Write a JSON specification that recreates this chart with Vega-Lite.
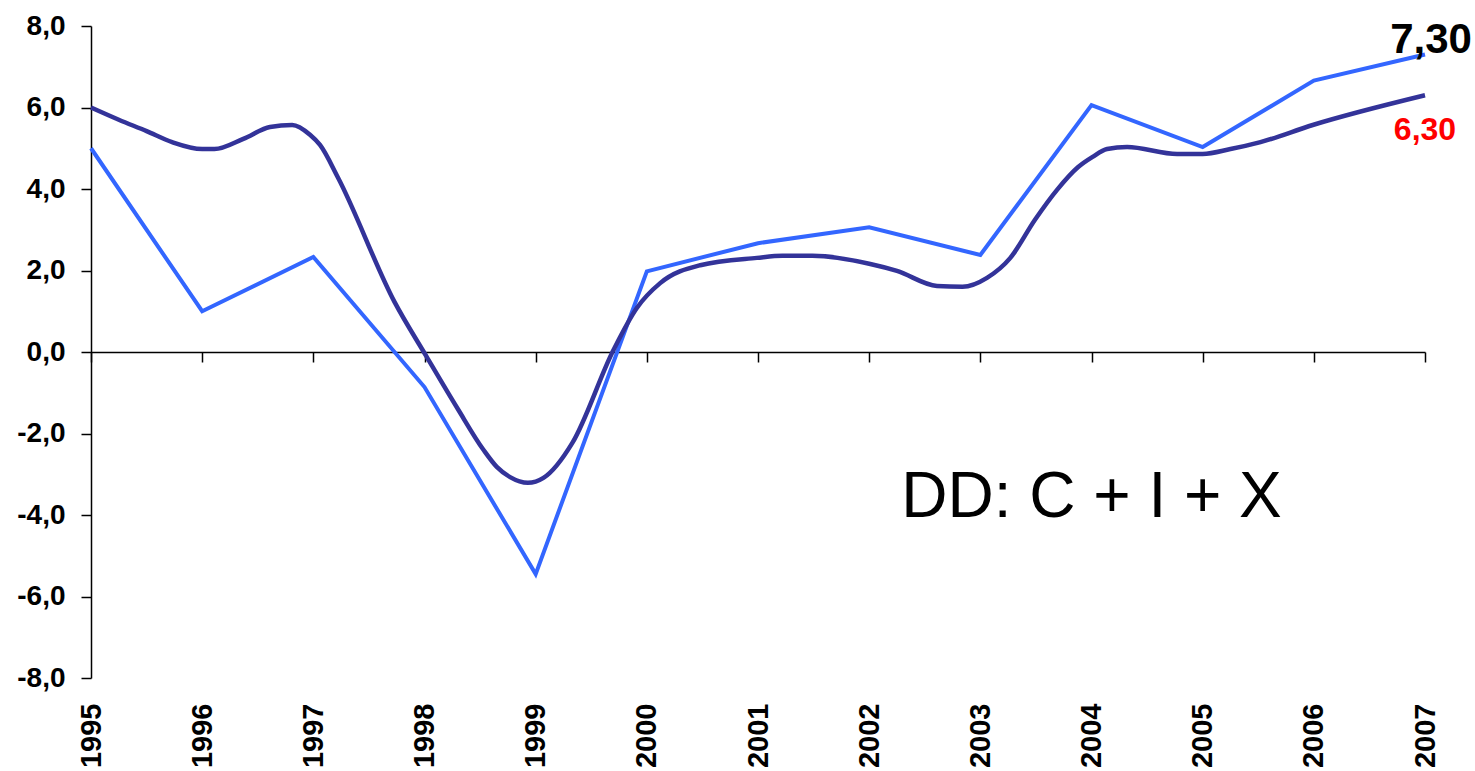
{
  "$schema": "https://vega.github.io/schema/vega-lite/v6.json",
  "width": 1334,
  "height": 652,
  "autosize": "none",
  "padding": {"left": 91, "top": 26, "right": 50, "bottom": 93},
  "background": "white",
  "config": {"view": {"stroke": null}},
  "datasets": {
    "dd": [
      {"year": 1995, "value": 5.0},
      {"year": 1996, "value": 1.0},
      {"year": 1997, "value": 2.33},
      {"year": 1998, "value": -0.86},
      {"year": 1999, "value": -5.45},
      {"year": 2000, "value": 1.98},
      {"year": 2001, "value": 2.67},
      {"year": 2002, "value": 3.06},
      {"year": 2003, "value": 2.38},
      {"year": 2004, "value": 6.06},
      {"year": 2005, "value": 5.03},
      {"year": 2006, "value": 6.66},
      {"year": 2007, "value": 7.3}
    ],
    "trend": [
      {"year": 1995.0, "value": 6.0},
      {"year": 1995.25, "value": 5.7},
      {"year": 1995.5, "value": 5.42},
      {"year": 1995.73, "value": 5.15},
      {"year": 1996.0, "value": 4.98},
      {"year": 1996.11, "value": 4.98},
      {"year": 1996.37, "value": 5.23},
      {"year": 1996.61, "value": 5.52},
      {"year": 1996.81, "value": 5.57},
      {"year": 1996.97, "value": 5.33},
      {"year": 1997.06, "value": 5.08},
      {"year": 1997.22, "value": 4.29},
      {"year": 1997.73, "value": 1.23},
      {"year": 1998.02, "value": -0.12},
      {"year": 1998.3, "value": -1.4},
      {"year": 1998.53, "value": -2.4},
      {"year": 1998.65, "value": -2.82},
      {"year": 1998.77, "value": -3.07},
      {"year": 1998.93, "value": -3.21},
      {"year": 1999.07, "value": -3.09},
      {"year": 1999.33, "value": -2.23},
      {"year": 1999.7, "value": 0.05},
      {"year": 1999.91, "value": 1.08},
      {"year": 2000.12, "value": 1.69},
      {"year": 2000.48, "value": 2.13},
      {"year": 2000.99, "value": 2.31},
      {"year": 2001.22, "value": 2.36},
      {"year": 2001.49, "value": 2.36},
      {"year": 2002.01, "value": 2.16},
      {"year": 2002.25, "value": 1.99},
      {"year": 2002.61, "value": 1.62},
      {"year": 2002.84, "value": 1.6},
      {"year": 2003.06, "value": 1.82},
      {"year": 2003.27, "value": 2.31},
      {"year": 2003.49, "value": 3.24},
      {"year": 2003.69, "value": 3.98},
      {"year": 2003.88, "value": 4.54},
      {"year": 2004.01, "value": 4.79},
      {"year": 2004.14, "value": 4.98},
      {"year": 2004.32, "value": 5.03},
      {"year": 2004.77, "value": 4.86},
      {"year": 2005.0, "value": 4.86},
      {"year": 2005.25, "value": 4.98},
      {"year": 2005.52, "value": 5.15},
      {"year": 2005.99, "value": 5.57},
      {"year": 2007.0, "value": 6.3}
    ],
    "lab1": [{"year": 2007, "value": 7.3, "label": "7,30"}],
    "lab2": [{"year": 2007, "value": 6.3, "label": "6,30"}],
    "lab3": [{"year": 2004, "value": -4.0, "label": "DD: C + I + X"}]
  },
  "resolve": {"axis": {"x": "independent"}},
  "layer": [
    {
      "data": {"name": "dd"},
      "mark": {"type": "line", "color": "#3366FF", "strokeWidth": 4, "strokeJoin": "miter"},
      "encoding": {
        "x": {
          "field": "year", "type": "quantitative",
          "scale": {"domain": [1995, 2007], "nice": false, "zero": false},
          "axis": {
            "orient": "bottom", "title": null, "values": [1995,1996,1997,1998,1999,2000,2001,2002,2003,2004,2005,2006,2007],
            "format": "d", "labelAngle": -90, "labelFont": "Liberation Sans", "labelFontWeight": "bold",
            "labelFontSize": 29, "labelColor": "black", "labelPadding": 25, "ticks": false, "tickSize": 0,
            "domain": false, "grid": false, "labelOverlap": false, "labelFlush": false
          }
        },
        "y": {
          "field": "value", "type": "quantitative",
          "scale": {"domain": [-8, 8], "nice": false},
          "axis": {
            "title": null, "values": [-8,-6,-4,-2,0,2,4,6,8],
            "labelExpr": "(datum.value < 0 ? '-' : '') + replace(format(abs(datum.value), '.1f'), '.', ',')",
            "labelFont": "Liberation Sans", "labelFontWeight": "bold", "labelFontSize": 28, "labelColor": "black",
            "labelPadding": 16, "tickSize": 10, "tickColor": "black", "tickWidth": 1.5,
            "domainColor": "black", "domainWidth": 1.5, "grid": false, "labelOverlap": false
          }
        }
      }
    },
    {
      "data": {"name": "trend"},
      "mark": {"type": "line", "color": "#333399", "strokeWidth": 4.5, "strokeJoin": "round", "interpolate": "monotone"},
      "encoding": {
        "x": {
          "field": "year", "type": "quantitative",
          "axis": {
            "orient": "bottom", "title": null, "offset": -326, "labels": false,
            "values": [1995,1996,1997,1998,1999,2000,2001,2002,2003,2004,2005,2006,2007],
            "ticks": true, "tickSize": 10, "tickColor": "black", "tickWidth": 1.5,
            "domain": true, "domainColor": "black", "domainWidth": 1.5, "grid": false
          }
        },
        "y": {"field": "value", "type": "quantitative"}
      }
    },
    {
      "data": {"name": "lab1"},
      "mark": {"type": "text", "font": "Liberation Sans", "fontWeight": "bold", "fontSize": 42, "color": "black", "align": "center", "baseline": "alphabetic", "dx": 6, "dy": -2},
      "encoding": {
        "x": {"field": "year", "type": "quantitative", "axis": null},
        "y": {"field": "value", "type": "quantitative"},
        "text": {"field": "label"}
      }
    },
    {
      "data": {"name": "lab2"},
      "mark": {"type": "text", "font": "Liberation Sans", "fontWeight": "bold", "fontSize": 32, "color": "#FF0000", "align": "center", "baseline": "alphabetic", "dx": 0, "dy": 45},
      "encoding": {
        "x": {"field": "year", "type": "quantitative", "axis": null},
        "y": {"field": "value", "type": "quantitative"},
        "text": {"field": "label"}
      }
    },
    {
      "data": {"name": "lab3"},
      "mark": {"type": "text", "font": "Liberation Sans", "fontWeight": "normal", "fontSize": 64, "color": "black", "align": "center", "baseline": "alphabetic", "dy": 2},
      "encoding": {
        "x": {"field": "year", "type": "quantitative", "axis": null},
        "y": {"field": "value", "type": "quantitative"},
        "text": {"field": "label"}
      }
    }
  ]
}
